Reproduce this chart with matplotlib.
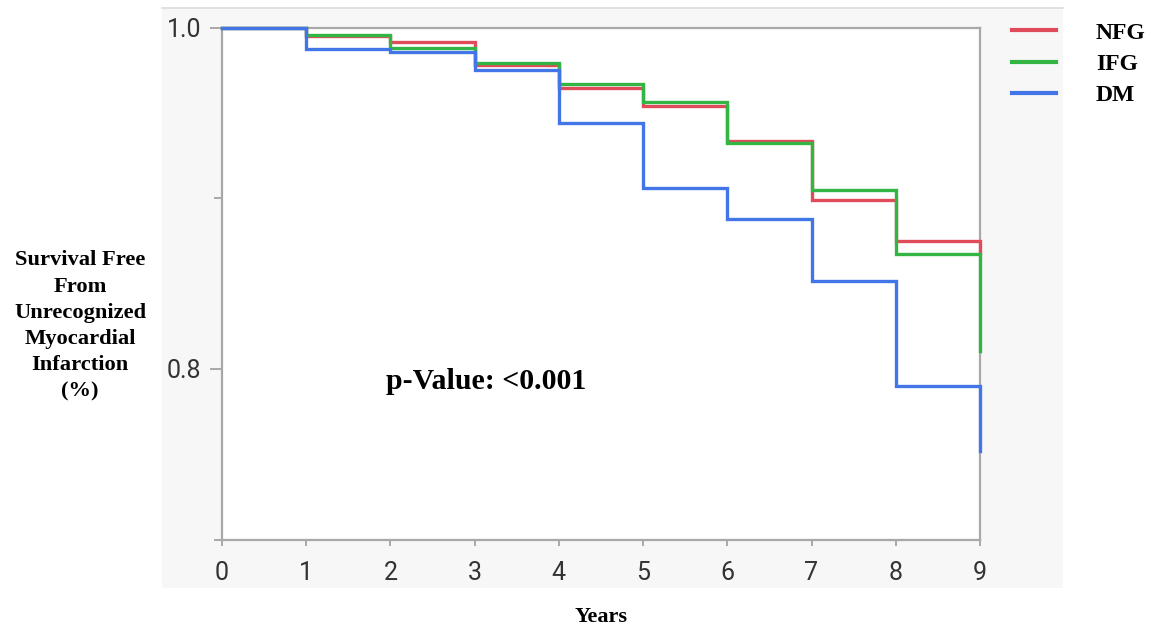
import matplotlib
matplotlib.use("Agg")
import matplotlib.pyplot as plt
from matplotlib.patches import Rectangle
from matplotlib.lines import Line2D
from matplotlib.ticker import FixedLocator

# Kaplan-Meier step values, one per year interval, plus end value at year 9
years = [0, 1, 2, 3, 4, 5, 6, 7, 8, 9]
nfg = [1.0, 0.9953, 0.9913, 0.978, 0.9646, 0.9538, 0.9336, 0.8991, 0.8751, 0.868]
ifg = [1.0, 0.9956, 0.9882, 0.979, 0.967, 0.9566, 0.9323, 0.905, 0.867, 0.8102]
dm = [1.0, 0.9874, 0.9858, 0.9751, 0.9443, 0.9061, 0.888, 0.8513, 0.7899, 0.7519]

labels = ["NFG", "IFG", "DM"]
colors = ["#e04b5a", "#33b544", "#4275e8"]

W, H = 1158, 631
fig = plt.figure(figsize=(W / 100, H / 100), dpi=100)
fig.patch.set_facecolor("white")

# light gray panel behind the plot
panel = Rectangle((162 / W, 1 - 588 / H), (1063 - 162) / W, (588 - 8) / H,
                  transform=fig.transFigure, facecolor="#f7f7f7",
                  edgecolor="none", zorder=0)
fig.add_artist(panel)
fig.add_artist(Line2D([162 / W, 1063 / W], [1 - 8 / H, 1 - 8 / H],
                      transform=fig.transFigure, color="#dcdcdc", lw=1.2))

ax = fig.add_axes([222 / W, 1 - 539.5 / H, (980 - 222) / W, (539.5 - 27.5) / H])
ax.set_facecolor("white")

for vals, lab, c in zip([nfg, ifg, dm], labels, colors):
    ax.step(years, vals, where="post", color=c, lw=2.4, label=lab,
            clip_on=False, solid_joinstyle="miter", zorder=3)

ax.set_xlim(0, 9)
ax.set_ylim(0.7, 1.0)
ax.set_xticks(years)
ax.set_yticks([0.8, 1.0])
ax.set_yticklabels(["0.8", "1.0"])
ax.yaxis.set_minor_locator(FixedLocator([0.7, 0.9]))

for s in ax.spines.values():
    s.set_color("#a8a8a8")
    s.set_linewidth(1.6)

ax.tick_params(axis="x", which="major", direction="out", length=4.5, width=1.4,
               color="#a8a8a8", pad=11)
ax.tick_params(axis="y", which="major", direction="out", length=9, width=1.4,
               color="#a8a8a8", pad=6)
ax.tick_params(axis="y", which="minor", direction="out", length=5.5, width=1.4,
               color="#a8a8a8")
for t in ax.get_xticklabels() + ax.get_yticklabels():
    t.set_fontfamily("Roboto")
    t.set_fontsize(18)
    t.set_color("#333333")

serif = "Liberation Serif"

fig.text(80 / W, 1 - 326 / H,
         "Survival Free\nFrom\nUnrecognized\nMyocardial\nInfarction\n(%)",
         ha="center", va="center", ma="center", family=serif,
         weight="bold", size=16.2, linespacing=1.42)

fig.text(601 / W, 1 - 617 / H, "Years", ha="center", va="center",
         family=serif, weight="bold", size=16)

ax.text(1.947, 0.7925, "p-Value: <0.001", ha="left", va="center",
        family=serif, weight="bold", size=21.5)

leg = ax.legend(loc="upper left", bbox_to_anchor=(1012 / W, 1 - 22 / H),
                bbox_transform=fig.transFigure, frameon=False,
                prop=dict(family=serif, weight="bold", size=17),
                handlelength=1.85, handletextpad=1.7, labelspacing=0.42,
                borderaxespad=0, borderpad=0)
for line in leg.get_lines():
    line.set_linewidth(3)

fig.savefig("out.png", dpi=100, facecolor="white")
